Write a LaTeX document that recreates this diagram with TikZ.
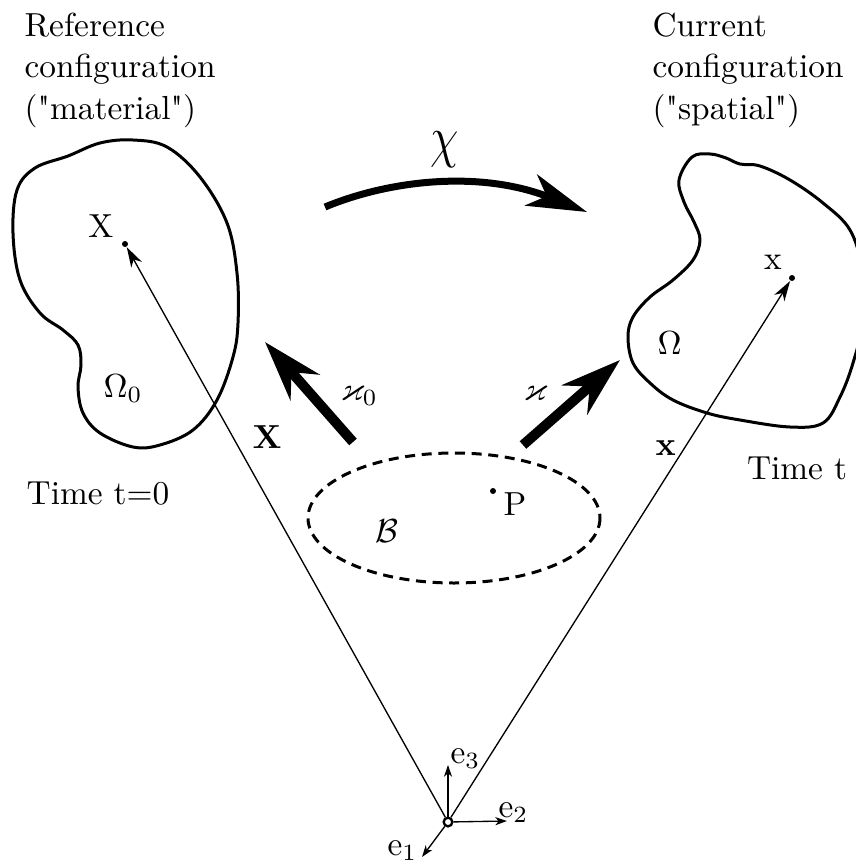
\documentclass[tikz,border=0pt]{standalone}
\usepackage{amssymb}
\usetikzlibrary{arrows.meta}
\begin{document}
\begin{tikzpicture}[x=0.3pt,y=-0.3pt,
  blob/.style={line width=0.9pt, line join=round},
  dotpt/.style={circle, fill, inner sep=0pt, minimum size=1.8pt},
  lbl/.style={inner sep=0pt, font=\fontsize{10}{12.45}\selectfont},
  vec/.style={line width=0.4pt, -{Stealth[length=6pt,width=3.6pt,inset=1.8pt]}},
  axisarrow/.style={line width=0.4pt, -{Stealth[length=3.5pt,width=2.4pt,inset=1pt]}},
  bigarrow/.style={line width=3pt, -{Stealth[length=18pt,width=11.5pt,inset=6pt]}},
  chiarrow/.style={line width=2.1pt, -{Stealth[length=18pt,width=10pt,inset=5pt]}},
]
\useasboundingbox (0,0) rectangle (856,868);

% bodies
\draw[blob] plot[smooth cycle, tension=0.6] coordinates {
  (100,143) (133,140) (167,147) (200,177) (227,223) (237,273) (238,323)
  (233,357) (217,400) (193,430) (160,445) (133,447) (100,433) (83,413)
  (78,387) (81,365) (78,345) (63,330) (40,313) (20,280) (13,233) (17,190)
  (35,168) (68,156)};
\draw[blob] plot[smooth cycle, tension=0.6] coordinates {
  (692,157) (710,154) (726,158) (740,164) (760,166) (790,180) (823,203)
  (850,230) (862,270) (863,320) (853,363) (840,397) (823,423) (790,427)
  (740,420) (707,413) (673,400) (650,383) (633,363) (628,337) (633,317)
  (650,297) (673,280) (693,260) (700,240) (694,222) (684,202) (679,180)};

% reference body B
\draw[line width=0.9pt, dash pattern=on 3pt off 2pt] (454,518) ellipse [x radius=146, y radius=65];

% titles
\node[lbl, align=left, anchor=north west] (reftitle) at (24,12)
  {Reference\\configuration\\(\textquotedbl material\textquotedbl)};
\node[lbl, align=left, anchor=north west] (curtitle) at (652,12)
  {Current\\configuration\\(\textquotedbl spatial\textquotedbl)};
\node[lbl, anchor=base] (t0) at (98,504) {Time t=0};
\node[lbl, anchor=base] (tt) at (797,479) {Time t};

% points
\node[dotpt] (Xp) at (125,244) {};
\node[dotpt] (xp) at (792,278) {};
\node[dotpt] (Pp) at (493,491) {};
\node[lbl, anchor=base] (Xl) at (101,237) {X};
\node[lbl, anchor=base] (xl) at (773,269) {x};
\node[lbl, anchor=base west] (Pl) at (503,515) {P};
\node[lbl, anchor=base west] (Bl) at (375,542) {$\mathcal{B}$};
\node[lbl, anchor=base west] (Om0) at (103,397) {$\Omega_0$};
\node[lbl, anchor=base west] (Om) at (657,354) {$\Omega$};

% origin and basis
\node[circle, draw, line width=0.7pt, inner sep=0pt, minimum size=2.6pt] (O) at (448,822) {};
\coordinate (e3end) at (448,765);
\coordinate (e2end) at (507,821);
\coordinate (e1end) at (422,857);
\draw[axisarrow] (O) -- (e3end);
\draw[axisarrow] (O) -- (e2end);
\draw[axisarrow] (O) -- (e1end);
\node[lbl, anchor=base west] (e3) at (450,763) {e$_3$};
\node[lbl, anchor=base west] (e2) at (498,817) {e$_2$};
\node[lbl, anchor=base west] (e1) at (387,855) {e$_1$};

% position vectors
\draw[vec] (O) -- (Xp);
\draw[vec] (O) -- (xp);
\node[lbl, anchor=base west] (Xb) at (252,448) {$\mathbf{X}$};
\node[lbl, anchor=base west] (xb) at (655,455) {$\mathbf{x}$};

% mappings
\coordinate (k0s) at (353,442);
\coordinate (k0e) at (265,342);
\coordinate (ks) at (523,445);
\coordinate (ke) at (620,360);
\draw[bigarrow] (k0s) -- (k0e);
\draw[bigarrow] (ks) -- (ke);
\node[lbl, anchor=base west] (k0l) at (340,400) {$\varkappa_0$};
\node[lbl, anchor=base west] (kl) at (523,400) {$\varkappa$};

\coordinate (chs) at (325,207);
\coordinate (che) at (587,212);
\draw[chiarrow] (chs) .. controls (390,180) and (480,170) .. (che);
\node[inner sep=0pt, anchor=center] (chil) at (445,150) {\fontsize{16}{18}\selectfont\scalebox{0.8}[1]{$\chi$}};
\end{tikzpicture}
\end{document}
